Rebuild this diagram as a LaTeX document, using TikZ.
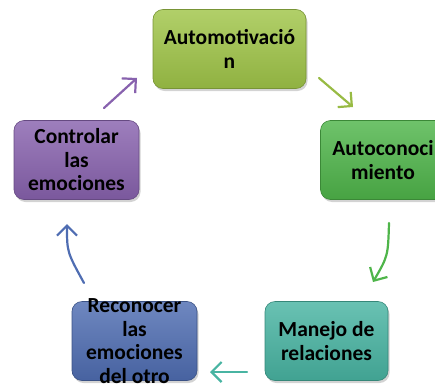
\documentclass[tikz,border=0pt]{standalone}
\usepackage{fontspec}
\setmainfont{Carlito}
\usetikzlibrary{arrows.meta,shadows,positioning}

\definecolor{motivc}{HTML}{A0C548}
\definecolor{conocc}{HTML}{4FB54A}
\definecolor{manejoc}{HTML}{48B4A2}
\definecolor{recoc}{HTML}{4F6DB2}
\definecolor{controlc}{HTML}{8862AE}

\tikzset{
  box/.style={rounded corners=10pt, minimum width=125pt, minimum height=79pt,
    top color=#1!82!white, bottom color=#1!90!black, draw=#1!75!black, line width=0.6pt,
    drop shadow={shadow xshift=1.5pt, shadow yshift=-2.5pt, opacity=0.35},
    font=\fontsize{21.5}{23.5}\selectfont\bfseries, align=center, inner sep=0pt},
  lbl/.style={font=\fontsize{21.5}{23.5}\selectfont\bfseries, align=center, inner sep=0pt},
  arr/.style={draw=#1, line width=2.2pt, line cap=round,
    -{Straight Barb[length=10pt,width=20pt,line width=2.2pt]}}
}

\begin{document}
\begin{tikzpicture}[x=1pt,y=-1pt]

    \useasboundingbox (0,0) rectangle (435,385);

	\node[box=motivc, minimum width=153pt] (motiv) at (229.5,49) {Automotivació\\n};
	\node[box=conocc] (conoc) at (383,160) {Autoconoci\\miento};
	\node[box=manejoc, minimum width=123pt] (manejo) at (326.5,341) {Manejo de\\relaciones};
	\node[box=recoc] (reco) at (134.5,341) {}; % texto sale de la caja
	\node[lbl] (recotxt) at (reco.center) {Reconocer\\las\\emociones\\del otro};
	\node[box=controlc] (control) at (76.5,160) {Controlar\\las\\emociones};

	% flechas
	\coordinate (a1s) at (319,78);  \coordinate (a1e) at (353,107);
	\coordinate (a2s) at (389,223); \coordinate (a2c) at (388,256); \coordinate (a2e) at (373,282);
	\coordinate (a3s) at (247,372); \coordinate (a3e) at (210,372);
	\coordinate (a4s) at (84,283);  \coordinate (a4c) at (67,252);  \coordinate (a4e) at (67,224);
	\coordinate (a5s) at (104,108); \coordinate (a5e) at (137,78);

	\draw[arr=motivc!95!black] (a1s) -- (a1e);
	\draw[arr=conocc] (a2s) .. controls (a2c) .. (a2e);
	\draw[arr=manejoc] (a3s) -- (a3e);
	\draw[arr=recoc] (a4s) .. controls (a4c) .. (a4e);
	\draw[arr=controlc] (a5s) -- (a5e);

  \end{tikzpicture}
\end{document}
